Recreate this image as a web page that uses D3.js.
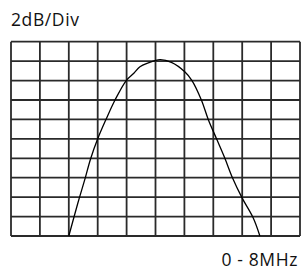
<!DOCTYPE html>
<html>
<head>
<meta charset="utf-8">
<script src="https://cdn.jsdelivr.net/npm/d3@7"></script>
<style>
    body { margin: 0; background: #fff; }
    #chart { width: 302px; height: 273px; }
    .svgText { font-family: "Open Sans", sans-serif; font-size: 17.5px; letter-spacing: 0.6px; fill: #111; }
</style>
</head>
<body>
<div id="chart"></div>
<script>
// frequency in MHz, level in dB (top of screen = 0)
var freq = [1.60, 1.74, 1.89, 2.05, 2.20, 2.40, 2.63, 2.88, 3.19, 3.40, 3.57, 3.80,
            4.12, 4.44, 4.81, 5.01, 5.27, 5.46, 5.69, 5.92, 6.13, 6.40, 6.70, 6.89];
var level = [-20, -18.1, -16.1, -14.1, -12.1, -10, -8, -6, -4.0, -3.25, -2.57, -2.19,
             -1.85, -2.12, -3.09, -4.0, -6, -8, -10, -12, -14, -16.1, -18.1, -20];
var xTicks = [0, 0.8, 1.6, 2.4, 3.2, 4, 4.8, 5.6, 6.4, 7.2, 8];
var yTicks = [-20, -18, -16, -14, -12, -10, -8, -6, -4, -2, 0];
var scaleLabel = '2dB/Div',
    spanLabel = '0 - 8MHz';

var width = 302,
    height = 273,
    gLeft = 11,
    gRight = 300,
    gTop = 41.7,
    gBottom = 236;

var x = d3.scaleLinear().domain([0, 8]).range([gLeft, gRight]),
    y = d3.scaleLinear().domain([-20, 0]).range([gBottom, gTop]);

var svg = d3.select('#chart').append('svg')
    .attr('width', width)
    .attr('height', height);

var grid = svg.append('g').attr('id', 'grid');

grid.selectAll('line.v')
    .data(xTicks)
    .enter().append('line')
    .attr('class', 'v')
    .attr('x1', function(d) { return x(d); })
    .attr('x2', function(d) { return x(d); })
    .attr('y1', y(-20))
    .attr('y2', y(0))
    .attr('stroke', '#2a2a2a')
    .attr('stroke-width', 1.8);

grid.selectAll('line.h')
    .data(yTicks)
    .enter().append('line')
    .attr('class', 'h')
    .attr('x1', x(0))
    .attr('x2', x(8))
    .attr('y1', function(d) { return y(d); })
    .attr('y2', function(d) { return y(d); })
    .attr('stroke', '#2a2a2a')
    .attr('stroke-width', 1.8);

var line = d3.line()
    .x(function(d, i) { return x(freq[i]); })
    .y(function(d, i) { return y(level[i]); })
    .curve(d3.curveCatmullRom.alpha(0.5));

svg.append('path')
    .datum(freq)
    .attr('d', line)
    .attr('fill', 'none')
    .attr('stroke', '#000')
    .attr('stroke-width', 1.3);

svg.append('text')
    .attr('class', 'svgText')
    .attr('x', 11)
    .attr('y', 26)
    .text(scaleLabel);

svg.append('text')
    .attr('class', 'svgText')
    .attr('x', 298)
    .attr('y', 266)
    .attr('text-anchor', 'end')
    .text(spanLabel);
</script>
</body>
</html>
